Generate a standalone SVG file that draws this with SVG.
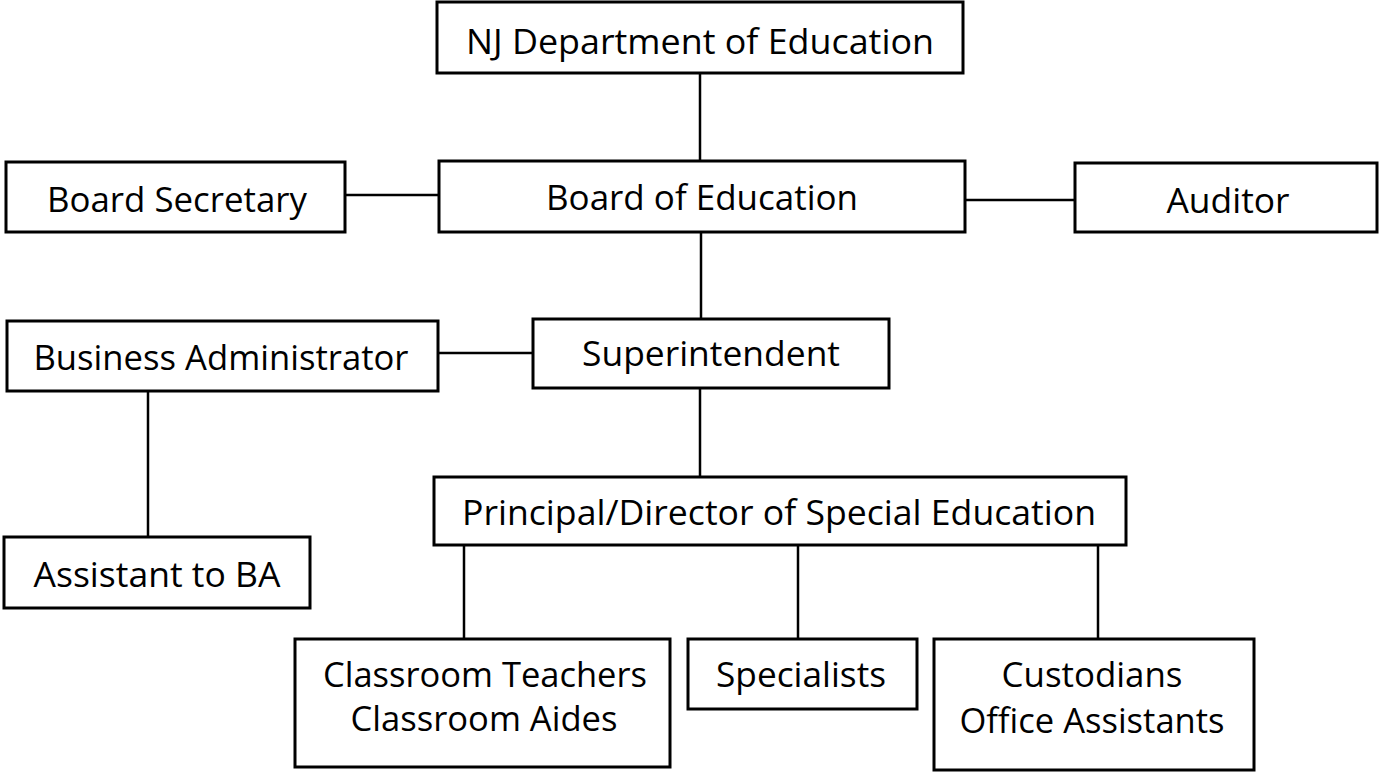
<svg xmlns="http://www.w3.org/2000/svg" width="1379" height="773" viewBox="0 0 1379 773">
<style>
.box{fill:#fff;stroke:#000;stroke-width:3}
.ln{stroke:#000;stroke-width:2.5;fill:none}
text{font-family:"Open Sans","Noto Sans",sans-serif;font-size:35px;fill:#000;text-anchor:middle}
</style>
<rect width="1379" height="773" fill="#fff"/>
<g id="connectors">
<line class="ln" x1="700" y1="73" x2="700" y2="161"/>
<line class="ln" x1="345" y1="195" x2="439" y2="195"/>
<line class="ln" x1="965" y1="200" x2="1075" y2="200"/>
<line class="ln" x1="701" y1="232" x2="701" y2="319"/>
<line class="ln" x1="438" y1="353" x2="533" y2="353"/>
<line class="ln" x1="148" y1="391" x2="148" y2="537"/>
<line class="ln" x1="700" y1="388" x2="700" y2="477"/>
<line class="ln" x1="464" y1="545" x2="464" y2="639"/>
<line class="ln" x1="798" y1="545" x2="798" y2="639"/>
<line class="ln" x1="1098" y1="545" x2="1098" y2="639"/>
</g>
<g id="nj"><rect class="box" x="437" y="2" width="526" height="71"/><text x="700" y="54" textLength="468" lengthAdjust="spacingAndGlyphs">NJ Department of Education</text></g>
<g id="board"><rect class="box" x="439" y="161" width="526" height="71"/><text x="702" y="210" textLength="312" lengthAdjust="spacingAndGlyphs">Board of Education</text></g>
<g id="secretary"><rect class="box" x="6" y="162" width="339" height="70"/><text x="177" y="212" textLength="260" lengthAdjust="spacingAndGlyphs">Board Secretary</text></g>
<g id="auditor"><rect class="box" x="1075" y="163" width="302" height="69"/><text x="1228" y="213" textLength="123" lengthAdjust="spacingAndGlyphs">Auditor</text></g>
<g id="superintendent"><rect class="box" x="533" y="319" width="356" height="69"/><text x="711" y="366" textLength="258" lengthAdjust="spacingAndGlyphs">Superintendent</text></g>
<g id="business-admin"><rect class="box" x="7" y="321" width="431" height="70"/><text x="221" y="370" textLength="375" lengthAdjust="spacingAndGlyphs">Business Administrator</text></g>
<g id="assistant-ba"><rect class="box" x="4" y="537" width="306" height="71"/><text x="157" y="587" textLength="247" lengthAdjust="spacingAndGlyphs">Assistant to BA</text></g>
<g id="principal"><rect class="box" x="434" y="477" width="692" height="68"/><text x="779" y="525" textLength="634" lengthAdjust="spacingAndGlyphs">Principal/Director of Special Education</text></g>
<g id="classroom"><rect class="box" x="295" y="639" width="375" height="128"/><text x="485" y="687" textLength="324" lengthAdjust="spacingAndGlyphs">Classroom Teachers</text><text x="484" y="731" textLength="267" lengthAdjust="spacingAndGlyphs">Classroom Aides</text></g>
<g id="specialists"><rect class="box" x="688" y="639" width="229" height="70"/><text x="801" y="687" textLength="170" lengthAdjust="spacingAndGlyphs">Specialists</text></g>
<g id="custodians"><rect class="box" x="934" y="639" width="320" height="131"/><text x="1092" y="687" textLength="181" lengthAdjust="spacingAndGlyphs">Custodians</text><text x="1092" y="733" textLength="265" lengthAdjust="spacingAndGlyphs">Office Assistants</text></g>
</svg>
